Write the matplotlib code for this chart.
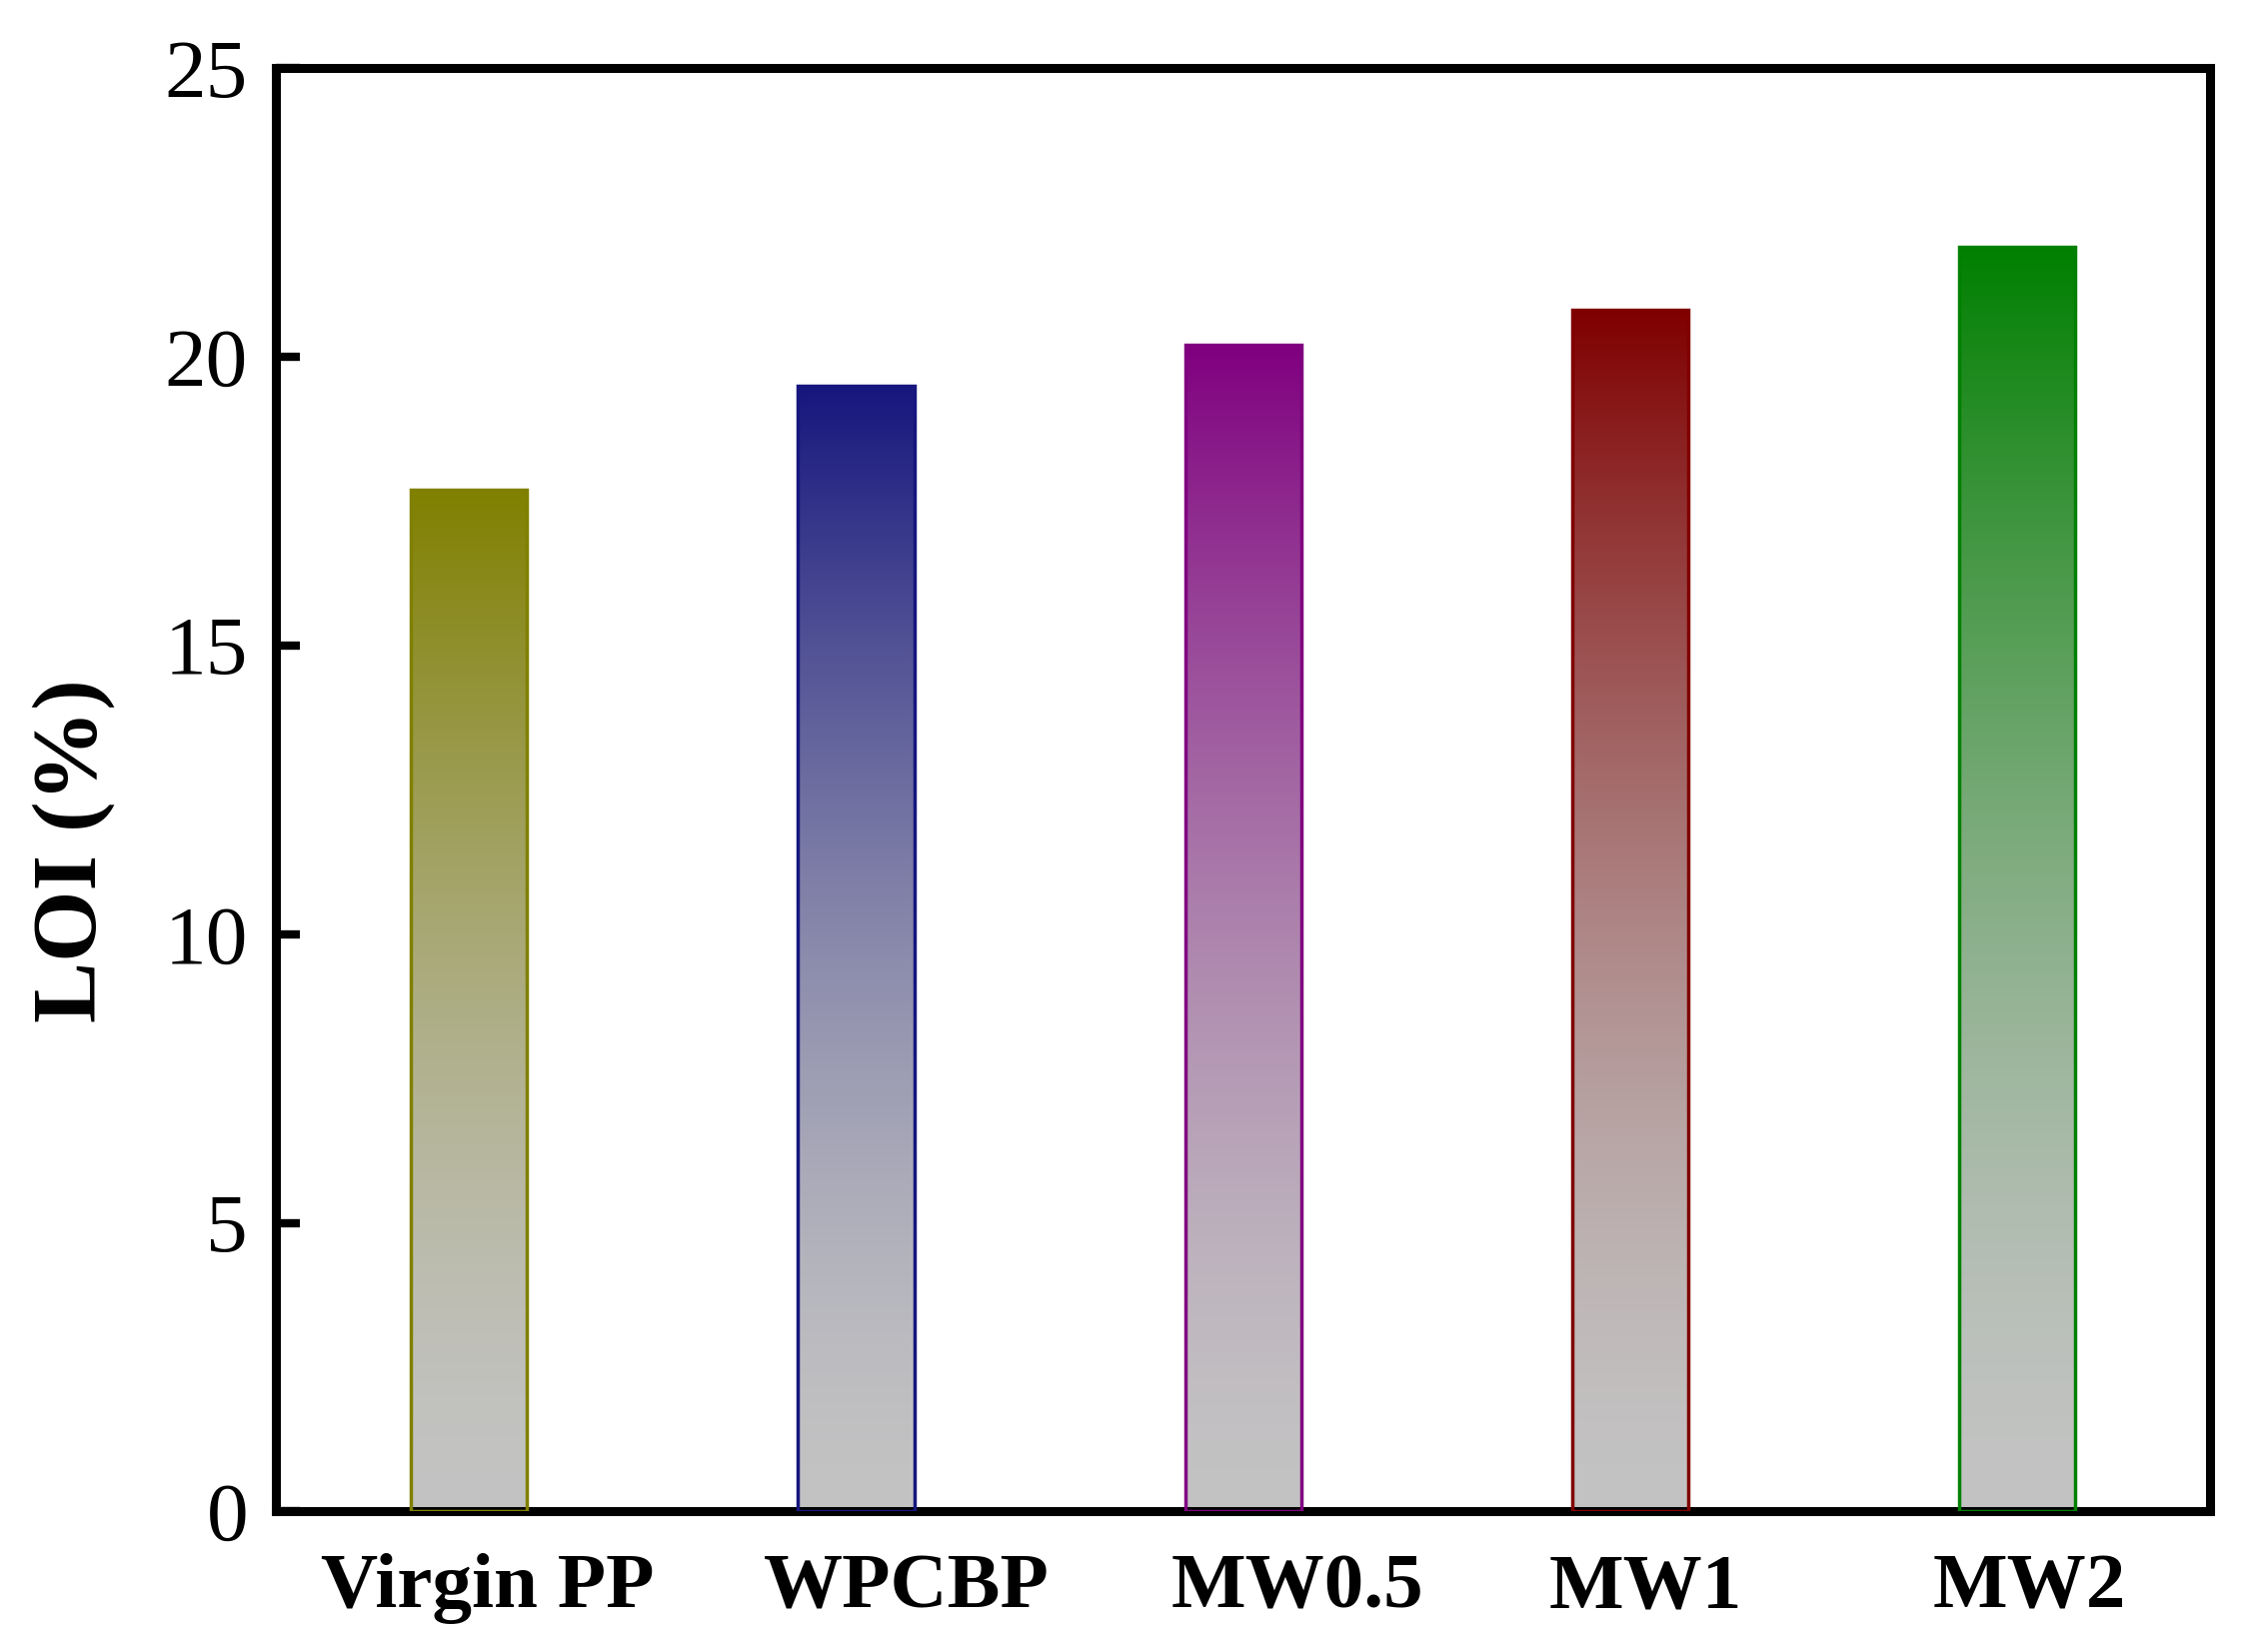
import numpy as np
import matplotlib

matplotlib.use("Agg")
import matplotlib.pyplot as plt  # noqa: E402
from matplotlib.colors import to_rgb  # noqa: E402
from matplotlib.transforms import ScaledTranslation  # noqa: E402

# data
samples = ["Virgin PP", "WPCBP", "MW0.5", "MW1", "MW2"]
loi = [17.7, 19.5, 20.2, 20.8, 21.9]
top_colors = ["#808000", "#16167e", "#800080", "#800000", "#008000"]
base_gray = "#c3c3c3"
yticks = [0, 5, 10, 15, 20, 25]
# the category labels sit a little right of their bars in the original (px)
label_shift_px = [18, 50, 54, 16, 12]

plt.rcParams["font.family"] = ["Liberation Serif", "DejaVu Serif"]


def gradient_image(color, n=256, power=1.6):
    """Vertical gradient: grey at the bottom -> full colour at the top."""
    h = np.linspace(0, 1, n)[:, None]
    t = h ** power
    c0 = np.array(to_rgb(base_gray))
    c1 = np.array(to_rgb(color))
    return (1 - t)[..., None] * c0 + t[..., None] * c1


fig = plt.figure(figsize=(22.52, 16.53), dpi=100)
ax = fig.add_axes([0.1225, 0.085, 0.8595, 0.874])

x = np.arange(len(samples))
bars = ax.bar(x, loi, width=0.3, color="none", edgecolor=top_colors,
              linewidth=2.5, zorder=3)

# fill each bar with its own gradient
for bar, c in zip(bars, top_colors):
    bx, bw, bh = bar.get_x(), bar.get_width(), bar.get_height()
    ax.imshow(gradient_image(c), origin="lower", aspect="auto",
              extent=[bx, bx + bw, 0, bh], zorder=2, interpolation="bilinear")

ax.set_xlim(-0.5, len(samples) - 0.5)
ax.set_ylim(0, 25)
ax.set_yticks(yticks)
ax.set_xticks(x)
ax.set_xticklabels(samples, fontweight="bold", fontsize=57)
ax.tick_params(axis="x", length=0, pad=30)
ax.tick_params(axis="y", direction="in", length=17, width=6, labelsize=60,
               pad=20)

for lab, dx in zip(ax.get_xticklabels(), label_shift_px):
    lab.set_transform(lab.get_transform()
                      + ScaledTranslation(dx / 100, 0, fig.dpi_scale_trans))

for sp in ax.spines.values():
    sp.set_linewidth(6.5)

ax.set_ylabel("LOI (%)", fontweight="bold", fontsize=66)
ax.yaxis.set_label_coords(-0.083, 0.458)

fig.savefig("out.png", dpi=100)
plt.close(fig)
